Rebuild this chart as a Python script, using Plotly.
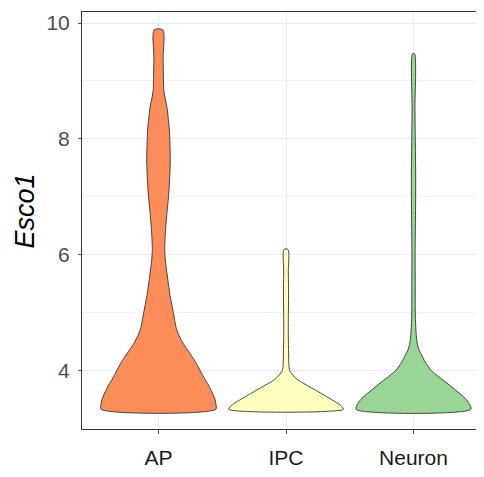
import plotly.graph_objects as go

categories = ["AP", "IPC", "Neuron"]
colors = ["#FC8D59", "#FFFFBF", "#99D594"]

# Violin profiles: expression levels and relative half-widths (density, scaled to max 1)
ap_y = [3.33, 3.42, 3.5, 3.59, 3.67, 3.75, 3.88, 4.03, 4.17, 4.32, 4.45, 4.6, 4.73, 4.88, 5.04, 5.3, 5.61, 5.85, 6.07, 6.46, 6.75, 7.03, 7.32, 7.6, 7.9, 8.17, 8.4, 8.57, 8.7, 8.85, 9.03, 9.4, 9.88]
ap_w = [1.0, 1.0, 0.985, 0.95, 0.91, 0.87, 0.79, 0.71, 0.63, 0.53, 0.44, 0.36, 0.31, 0.28, 0.25, 0.2, 0.157, 0.125, 0.108, 0.125, 0.15, 0.177, 0.195, 0.205, 0.2, 0.188, 0.165, 0.144, 0.115, 0.092, 0.087, 0.08, 0.075]

ipc_y = [3.33, 3.38, 3.44, 3.5, 3.6, 3.68, 3.77, 3.85, 3.92, 4.0, 4.1, 4.3, 4.6, 4.9, 5.3, 5.7, 6.09]
ipc_w = [1.0, 0.97, 0.89, 0.79, 0.62, 0.48, 0.32, 0.19, 0.12, 0.064, 0.05, 0.045, 0.04, 0.04, 0.045, 0.04, 0.035]

neu_y = [3.33, 3.43, 3.52, 3.6, 3.68, 3.77, 3.9, 4.0, 4.08, 4.17, 4.27, 4.36, 4.47, 4.58, 4.92, 5.5, 6.0, 6.86, 7.3, 7.71, 8.5, 9.47]
neu_w = [1.0, 0.97, 0.9, 0.81, 0.71, 0.6, 0.43, 0.31, 0.25, 0.19, 0.14, 0.095, 0.065, 0.05, 0.032, 0.03, 0.028, 0.036, 0.038, 0.034, 0.025, 0.017]

profiles = [(ap_y, ap_w), (ipc_y, ipc_w), (neu_y, neu_w)]
y_ticks = [4, 6, 8, 10]

half_width = 0.45

fig = go.Figure()
for i, (cat, col, (ys, ws)) in enumerate(zip(categories, colors, profiles)):
    center = i + 1
    xs = [center + half_width * w for w in ws] + [center - half_width * w for w in reversed(ws)]
    yy = list(ys) + list(reversed(ys))
    xs.append(xs[0])
    yy.append(yy[0])
    fig.add_trace(go.Scatter(
        x=xs, y=yy, mode="lines", fill="toself", fillcolor=col,
        line=dict(color="#333333", width=0.9, shape="spline", smoothing=0.8),
        name=cat, showlegend=False, hoverinfo="skip",
    ))

# page body has an 8px margin, so the figure is sized to fit inside the window
fig.update_layout(
    width=468, height=461,
    margin=dict(l=74, r=0, t=4, b=37),
    paper_bgcolor="white", plot_bgcolor="white",
    font=dict(family="Liberation Sans, Arial, sans-serif"),
    showlegend=False,
)
fig.update_xaxes(
    range=[0.4, 3.49],
    tickmode="array", tickvals=[1, 2, 3], ticktext=categories,
    tickfont=dict(size=21, color="#1A1A1A"),
    ticks="outside", ticklen=4, tickcolor="#555555", tickwidth=1,
    showline=True, linecolor="#333333", linewidth=1, mirror=True,
    showgrid=True, gridcolor="#EBEBEB", gridwidth=1,
    zeroline=False, ticklabelstandoff=6,
)
fig.update_yaxes(
    range=[2.99, 10.19],
    tickmode="array", tickvals=y_ticks, ticktext=[str(v) for v in y_ticks],
    tickfont=dict(size=21, color="#4D4D4D"),
    ticks="outside", ticklen=3, tickcolor="#555555", tickwidth=1,
    showline=True, linecolor="#333333", linewidth=1,
    showgrid=True, gridcolor="#EBEBEB", gridwidth=1,
    minor=dict(dtick=1, tick0=3, showgrid=True, gridcolor="#F2F2F2", ticks=""),
    zeroline=False, ticklabelstandoff=4,
)
fig.add_annotation(
    text="<i>Esco1</i>", xref="paper", yref="paper",
    x=-0.1447, y=0.5238, xanchor="center", yanchor="middle",
    textangle=-90, showarrow=False,
    font=dict(size=27, color="#000000", family="Liberation Sans, Arial, sans-serif"),
)

fig.write_html("out.html")
